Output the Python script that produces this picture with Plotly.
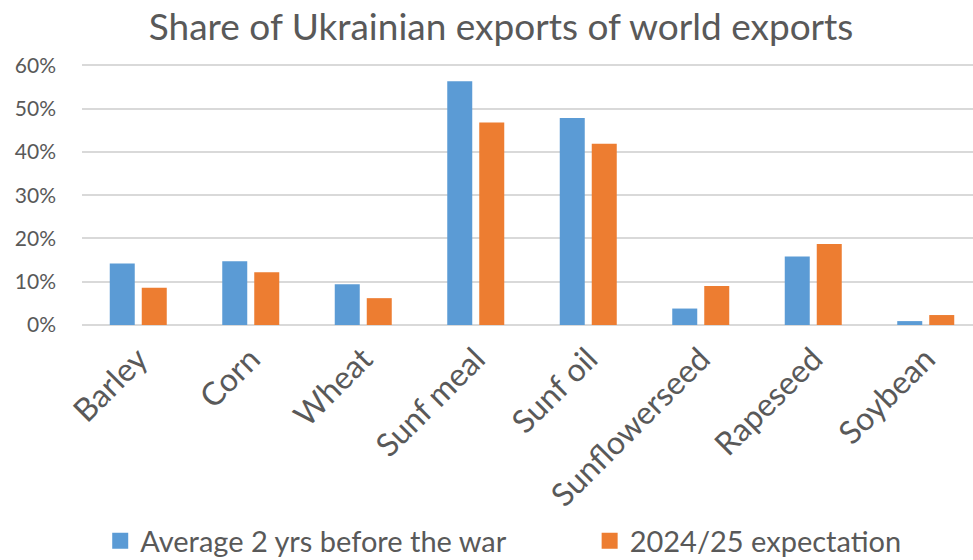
import plotly.graph_objects as go

categories = ["Barley", "Corn", "Wheat", "Sunf meal", "Sunf oil", "Sunflowerseed", "Rapeseed", "Soybean"]
avg_before_war = [14.2, 14.7, 9.4, 56.3, 47.8, 3.8, 15.8, 0.9]
expect_2024_25 = [8.6, 12.2, 6.2, 46.8, 41.9, 9.0, 18.7, 2.3]
series_names = ["Average 2 yrs before the war", "2024/25 expectation"]
y_ticks = [0, 10, 20, 30, 40, 50, 60]
y_tick_labels = ["0%", "10%", "20%", "30%", "40%", "50%", "60%"]

BLUE = "#5B9BD5"
ORANGE = "#ED7D31"
GRAY = "#595959"
FONT = "Lato"

fig = go.Figure()
for name, vals, col in [(series_names[0], avg_before_war, BLUE), (series_names[1], expect_2024_25, ORANGE)]:
    fig.add_trace(go.Bar(x=categories, y=vals, name=name, marker=dict(color=col, line=dict(width=0)),
                         showlegend=False))
# legend entries with larger square symbols, each in its own legend box
for name, col, lg in [(series_names[0], BLUE, "legend"), (series_names[1], ORANGE, "legend2")]:
    fig.add_trace(go.Scatter(x=[None], y=[None], mode="markers", name=name, legend=lg,
                             marker=dict(symbol="square", size=17, color=col)))

legend_common = dict(orientation="h", xref="container", yref="container", xanchor="left",
                     y=1 - 541 / 560, yanchor="middle", font=dict(size=29, color=GRAY, family=FONT),
                     bgcolor="rgba(0,0,0,0)")

fig.update_layout(
    width=973, height=560,
    margin=dict(l=82, r=0, t=64, b=235, autoexpand=False),
    paper_bgcolor="white", plot_bgcolor="white",
    font=dict(family=FONT, color=GRAY),
    title=dict(text="Share of Ukrainian exports of world exports", x=0.515, xanchor="center",
               y=1 - 27 / 560, yanchor="middle", font=dict(size=37, color=GRAY, family=FONT)),
    barmode="group", bargap=0.431, bargroupgap=0.219,
    legend=dict(x=0.103, **legend_common),
    legend2=dict(x=0.606, **legend_common),
)
fig.update_xaxes(range=[-0.5, 7.42], tickangle=-45, tickfont=dict(size=32, color=GRAY, family=FONT),
                 showgrid=False, showline=False, ticks="", zeroline=False, automargin=False,
                 ticklabelstandoff=8)
fig.update_yaxes(range=[0, 60.3], tickvals=y_ticks, ticktext=y_tick_labels,
                 tickfont=dict(size=21, color=GRAY, family=FONT),
                 showgrid=True, gridcolor="#D9D9D9", gridwidth=1.5, zeroline=True,
                 zerolinecolor="#D9D9D9", zerolinewidth=1.5, ticks="", ticklabelstandoff=25,
                 automargin=False)

fig.write_html("out.html", config={"displayModeBar": False},
               post_script="document.body.style.margin='0';document.body.style.overflow='hidden';")
